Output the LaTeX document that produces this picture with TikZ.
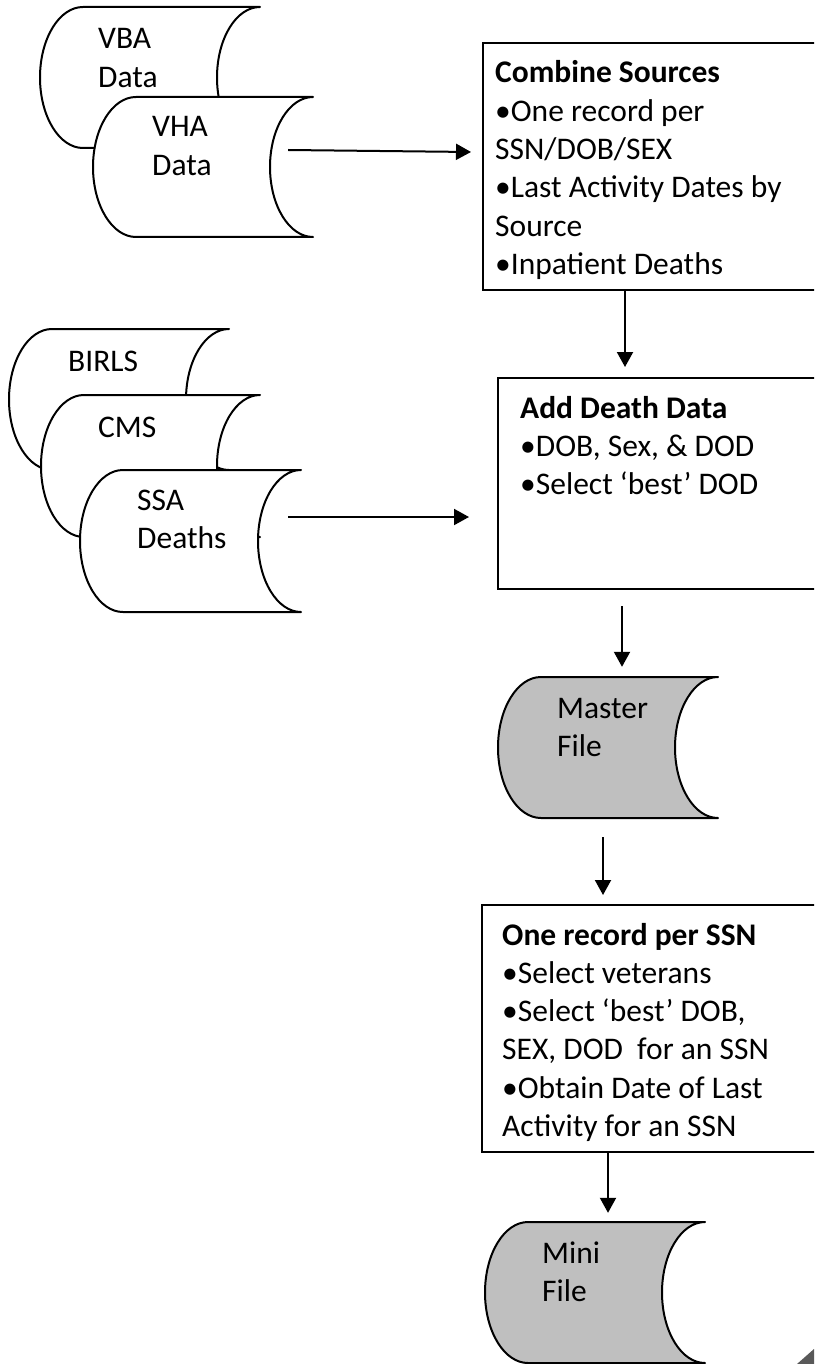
\documentclass[tikz,border=0pt]{standalone}
\usepackage{fontspec}
\setmainfont{Carlito}
\usetikzlibrary{arrows.meta}
\definecolor{filegray}{HTML}{BFBFBF}
% name, L, T, R, B, fill
\newcommand\storedshape[6]{%
  \pgfmathsetmacro\sdhh{(#5-#3)/2}%
  \pgfmathsetmacro\sdlx{#2+43}%
  \draw[shapeline, fill=#6] (\sdlx,#3) -- (#4,#3)
    arc[start angle=90, end angle=270, x radius=43pt, y radius=\sdhh pt]
    -- (\sdlx,#5)
    arc[start angle=270, end angle=90, x radius=43pt, y radius=\sdhh pt] -- cycle;
  \node[inner sep=0pt, minimum width={(#4-#2)*1pt}, minimum height={(#5-#3)*1pt}]
    (#1) at ({(#2+#4)/2},{(#3+#5)/2}) {};%
}
\begin{document}
\begin{tikzpicture}[x=1pt,y=-1pt,
  shapeline/.style={draw=black, line width=2pt, line join=round},
  box/.style={draw=black, line width=2pt, inner sep=0pt},
  txt/.style={font=\fontsize{31.5}{38.3}\selectfont, align=left, inner sep=0pt, anchor=base west},
  arr/.style={draw=black, line width=2pt, -{Triangle[length=15pt,width=16pt]}}]
\useasboundingbox (0,0) rectangle (814,1364);
\clip (0,0) rectangle (814,1364);
\fill[white] (0,0) rectangle (814,1364);

% data sources
\storedshape{vba}{40}{7}{260}{148}{white}
\storedshape{vha}{93}{97}{313}{237}{white}
\storedshape{birls}{9}{329}{229}{470}{white}
\storedshape{cms}{41}{395}{260}{537}{white}
\storedshape{ssa}{80}{470}{301}{612}{white}
\storedshape{master}{498}{677}{718}{818}{filegray}
\storedshape{mini}{485}{1222}{705}{1363}{filegray}

% process boxes
\node[box, minimum width=347pt, minimum height=247pt] (combine) at (656.5,166.5) {};
\node[box, minimum width=332pt, minimum height=211pt] (adddeath) at (664,483.5) {};
\node[box, minimum width=348pt, minimum height=247pt] (onerec) at (656,1028.5) {};

% texts (anchor = baseline of the last line)
\node[txt] (vbat) at (98,87.3) {VBA\\Data};
\node[txt] (vhat) at (152,175.3) {VHA\\Data};
\node[txt] (birlst) at (68,371) {BIRLS};
\node[txt] (cmst) at (98,437) {CMS};
\node[txt] (ssat) at (137,548.3) {SSA\\Deaths};
\node[txt] (mastert) at (557,756.3) {Master\\File};
\node[txt] (minit) at (542,1301.3) {Mini\\File};
\node[txt] (combt) at (495,274.5) {\textbf{Combine Sources}\\•One record per\\SSN/DOB/SEX\\•Last Activity Dates by\\Source\\•Inpatient Deaths};
\node[txt] (addt) at (520,494.6) {\textbf{Add Death Data}\\•DOB, Sex, \& DOD\\•Select ‘best’ DOD};
\node[txt] (onet) at (502,1136.5) {\textbf{One record per SSN}\\•Select veterans\\•Select ‘best’ DOB,\\SEX, DOD\ \ for an SSN\\•Obtain Date of Last\\Activity for an SSN};

% connectors
\draw[arr] ([xshift=-25pt,yshift=17pt]vha.east) -- ([xshift=-11pt,yshift=14.5pt]combine.west);
\draw[arr] ([xshift=-13pt,yshift=24pt]ssa.east) -- ([xshift=-28pt,yshift=-33.5pt]adddeath.west);
\coordinate (a2s) at ([xshift=-31.5pt]combine.south);
\draw[arr, shorten >=10pt] (a2s) -- (a2s |- adddeath.north);
\coordinate (a3s) at ([xshift=-42pt,yshift=-16pt]adddeath.south);
\draw[arr, shorten >=10pt] (a3s) -- (a3s |- master.north);
\coordinate (a4s) at ([xshift=-5pt,yshift=-19pt]master.south);
\draw[arr, shorten >=9pt] (a4s) -- (a4s |- onerec.north);
\coordinate (a5s) at ([xshift=-48pt]onerec.south);
\draw[arr, shorten >=9pt] (a5s) -- (a5s |- mini.north);

% page-corner shadow
\fill[black!65] (797,1364) -- (814,1349) -- (814,1364) -- cycle;
\end{tikzpicture}
\end{document}
